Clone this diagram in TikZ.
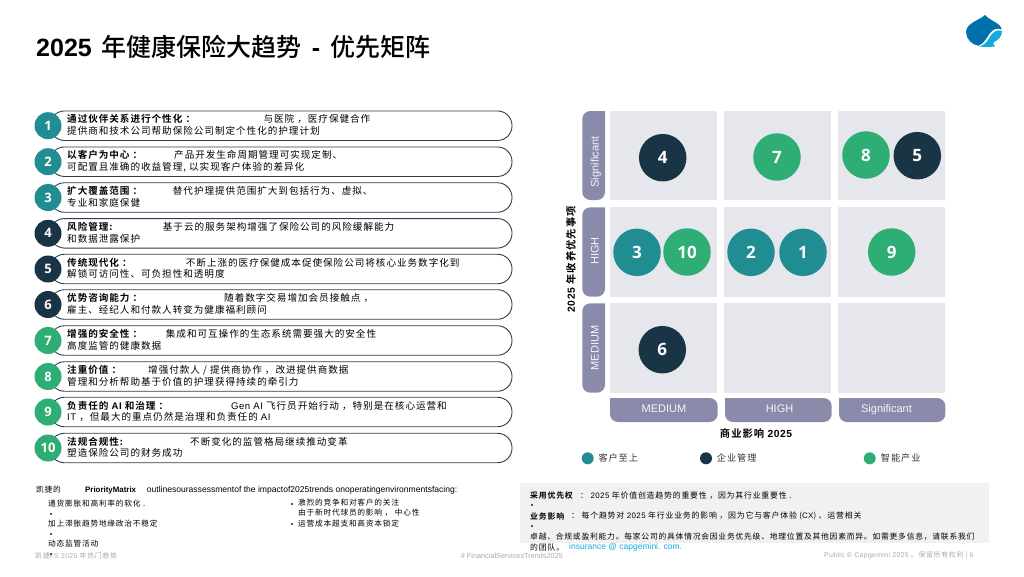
\documentclass[tikz,border=0pt]{standalone}
\usepackage{fontspec}
\setmainfont{Liberation Sans}
\newfontfamily\cjk[LetterSpace=10,BoldFont={Noto Sans CJK SC Bold}]{Noto Sans CJK SC}
\newfontfamily\cjkt{Noto Sans CJK SC Medium}
\newfontfamily\latt{Liberation Sans}
\newfontfamily\latn[LetterSpace=5]{Liberation Sans}
\newfontfamily\plainlat{Liberation Sans}
\newfontfamily\numf{Open Sans}
\newcommand{\lat}[1]{{\latn #1}}
\newcommand{\fsz}[1]{\fontsize{#1}{#1}\selectfont}
\definecolor{cteal}{HTML}{208D93}
\definecolor{cdark}{HTML}{193545}
\definecolor{cgreen}{HTML}{2EAD75}
\definecolor{ccell}{HTML}{E6E7EC}
\definecolor{caxis}{HTML}{8A8BAA}
\definecolor{cpill}{HTML}{2F3D4C}
\definecolor{cfoot}{HTML}{A8A8A8}
\definecolor{cbullet}{HTML}{0070AD}
\definecolor{clink}{HTML}{12ABDB}
\tikzset{
  pill/.style={draw=cpill,line width=0.9pt,rounded corners=14.5pt,fill=white,minimum width=462pt,minimum height=29.5pt,inner sep=0pt},
  listnum/.style={circle,minimum size=27pt,inner sep=0pt,text=white,font=\numf\bfseries\fsz{13}},
  matnum/.style={circle,minimum size=47.5pt,inner sep=0pt,text=white,font=\numf\bfseries\fsz{17}},
  legdot/.style={circle,minimum size=12pt,inner sep=0pt},
  cell/.style={fill=ccell,draw=none,minimum width=107pt,minimum height=89.5pt,inner sep=0pt},
  listtext/.style={anchor=west,inner sep=0pt,text=black,font=\cjk\fsz{9.6}},
  smalltext/.style={anchor=west,inner sep=0pt,text=black,font=\cjk\fsz{7.7}},
  boxtext/.style={anchor=west,inner sep=0pt,text=black,font=\cjk\fsz{7.9}},
  foot/.style={anchor=west,inner sep=0pt,text=cfoot,font=\cjk\fsz{6.9}},
  axislab/.style={inner sep=0pt,text=white!92!caxis,font=\plainlat\fsz{11},text height=8pt,text depth=2pt},
  axistitle/.style={inner sep=0pt,text=black,font=\cjk\bfseries\fsz{10.3}},
  bul/.style={fill=cbullet,inner sep=0pt,minimum size=2pt},
}
\newcommand{\trend}[7]{%
  \node[pill] (p#1) at (281,#2) {};
  \node[listnum,fill=#3] (n#1) at (48,#2) {#1};
  \node[listtext] (a#1) at (67,#2-6.5) {\bfseries #4};
  \node[listtext] (b#1) at (#5,#2-6.5) {#6};
  \node[listtext] (c#1) at (67,#2+5.3) {#7};
}
\begin{document}
\begin{tikzpicture}[x=1pt,y=-1pt]
\useasboundingbox (0,0) rectangle (1024,576);
% title
\node[anchor=west,inner sep=0pt,font=\cjkt\fsz{25}] (title) at (36,47) {{\latt\bfseries 2025}\hspace{10pt}年健康保险大趋势\hspace{10pt}{\latt\bfseries -}\hspace{10pt}优先矩阵};
% logo
\fill[cbullet] (985,15) .. controls (980,20) and (966,23) .. (966,32) .. controls (966,39) and (972,45) .. (978.5,45.7) .. controls (984,44) and (987,37) .. (990,33) .. controls (993,29) and (998,27.5) .. (1001.7,29.5) .. controls (1001,23) and (990,21) .. (985,15) -- cycle;
\fill[clink] (1002,31) .. controls (996,28) and (991,34) .. (988,40) .. controls (986,43) and (983,45.5) .. (979,46.5) .. controls (984,47) and (990,47) .. (995,46.5) .. controls (993,45) and (993,43) .. (994,42) .. controls (998,40) and (1002,37) .. (1002,31) -- cycle;
% trends
\trend{1}{125.7}{cteal}{通过伙伴关系进行个性化 ：}{263.3}{与医院 ，医疗保健合作}{提供商和技术公司帮助保险公司制定个性化的护理计划}
\trend{2}{161.7}{cteal}{以客户为中心 ：}{174}{产品开发生命周期管理可实现定制、}{可配置且准确的收益管理, 以实现客户体验的差异化}
\trend{3}{197.5}{cteal}{扩大覆盖范围 ：}{172.7}{替代护理提供范围扩大到包括行为、虚拟、}{专业和家庭保健}
\trend{4}{233.3}{cdark}{风险管理:}{162.7}{基于云的服务架构增强了保险公司的风险缓解能力}{和数据泄露保护}
\trend{5}{269}{cdark}{传统现代化 ：}{185.7}{不断上涨的医疗保健成本促使保险公司将核心业务数字化到}{解锁可访问性、可负担性和透明度}
\trend{6}{304.5}{cdark}{优势咨询能力 ：}{224}{随着数字交易增加会员接触点 ，}{雇主、经纪人和付款人转变为健康福利顾问}
\trend{7}{340.5}{cgreen}{增强的安全性 ：}{165.7}{集成和可互操作的生态系统需要强大的安全性}{高度监管的健康数据}
\trend{8}{376.5}{cgreen}{注重价值 ：}{148}{增强付款人 / 提供商协作 ，改进提供商数据}{管理和分析帮助基于价值的护理获得持续的牵引力}
\trend{9}{412}{cgreen}{负责任的 \lat{AI} 和治理 ：}{231}{\lat{Gen AI} 飞行员开始行动 ，特别是在核心运营和}{\lat{IT} ，但最大的重点仍然是治理和负责任的 \lat{AI}}
\trend{10}{448}{cgreen}{法规合规性:}{190}{不断变化的监管格局继续推动变革}{塑造保险公司的财务成功}
% matrix cells
\foreach \nm/\cx in {a/663.5,b/777.3,c/891.8}{
  \foreach \rn/\cy in {t/155.5,m/252,l/348}{
    \node[cell] (cell\nm\rn) at (\cx,\cy) {};
  }
}
% y tabs
\fill[caxis] (605,111) [rounded corners=8pt] -- (582.3,111) -- (582.3,200) -- (605,200) [sharp corners] -- cycle;
\fill[caxis] (605,207.3) [rounded corners=8pt] -- (582.3,207.3) -- (582.3,296.7) -- (605,296.7) [sharp corners] -- cycle;
\fill[caxis] (605,303.3) [rounded corners=8pt] -- (582.3,303.3) -- (582.3,392.7) -- (605,392.7) [sharp corners] -- cycle;
\node[axislab,rotate=90] (ys) at (595.7,162) {Significant};
\node[axislab,rotate=90] (yh) at (595.7,251) {HIGH};
\node[axislab,rotate=90] (ym) at (595.7,348) {MEDIUM};
% x tabs
\fill[caxis] (610,398) [rounded corners=8pt] -- (610,422) -- (717.7,422) -- (717.7,398) [sharp corners] -- cycle;
\fill[caxis] (725,398) [rounded corners=8pt] -- (725,422) -- (831.7,422) -- (831.7,398) [sharp corners] -- cycle;
\fill[caxis] (839,398) [rounded corners=8pt] -- (839,422) -- (945.3,422) -- (945.3,398) [sharp corners] -- cycle;
\node[axislab] (xm) at (664,409.5) {MEDIUM};
\node[axislab] (xh) at (779.5,409.5) {HIGH};
\node[axislab] (xs) at (886.5,409.5) {Significant};
% axis titles
\node[axistitle] (xt) at (756,433.7) {商业影响 \lat{\bfseries 2025}};
\node[axistitle,rotate=90] (yt) at (571,259.3) {\lat{\bfseries 2025} 年收养优先事项};
% matrix circles
\node[matnum,fill=cdark] (m4) at (662.7,157.7) {4};
\node[matnum,fill=cgreen] (m7) at (777,157) {7};
\node[matnum,fill=cgreen] (m8) at (866,155) {8};
\node[matnum,fill=cdark] (m5) at (917.3,155.7) {5};
\node[matnum,fill=cteal] (m3) at (637,252.3) {3};
\node[matnum,fill=cgreen] (m10) at (687,252) {10};
\node[matnum,fill=cteal] (m2) at (751,252.3) {2};
\node[matnum,fill=cteal] (m1) at (803,252.3) {1};
\node[matnum,fill=cgreen] (m9) at (891.7,252) {9};
\node[matnum,fill=cdark] (m6) at (662.3,349.7) {6};
% legend
\node[legdot,fill=cteal] (l1) at (587.7,458.3) {};
\node[legdot,fill=cdark] (l2) at (706,458.3) {};
\node[legdot,fill=cgreen] (l3) at (869.7,458.3) {};
\node[listtext,font=\cjk\fsz{9.2},text=black!80] (lt1) at (598.3,458.3) {客户至上};
\node[listtext,font=\cjk\fsz{9.2},text=black!80] (lt2) at (716.7,458.3) {企业管理};
\node[listtext,font=\cjk\fsz{9.2},text=black!80] (lt3) at (880.7,458.3) {智能产业};
% bottom left
\node[smalltext] (bl1) at (36,490) {凯捷的};
\node[anchor=west,inner sep=0pt,font=\plainlat\bfseries\fsz{7.9}] (bl2) at (85,490) {PriorityMatrix};
\node[anchor=west,inner sep=0pt,font=\plainlat\fsz{8.55}] (bl3) at (146.7,490) {outlinesourassessmentof the impactof2025trends onoperatingenvironmentsfacing:};
\node[smalltext] (bl4) at (48,504) {通货膨胀和高利率的软化 .};
\node[bul] (bu1) at (51,514) {};
\node[smalltext] (bl5) at (48,524) {加上滞胀趋势地缘政治不稳定};
\node[bul] (bu2) at (51,534) {};
\node[smalltext] (bl6) at (48,544) {动态监管活动};
\node[bul] (bu3) at (291.7,504) {};
\node[smalltext] (br1) at (298,503) {激烈的竞争和对客户的关注};
\node[smalltext] (br2) at (298,513) {由于新时代球员的影响 ， 中心性};
\node[bul] (bu4) at (291.7,524) {};
\node[smalltext] (br3) at (298,524) {运营成本超支和高资本锁定};
% grey box
\node[fill=black!5.5,draw=none,anchor=north west,minimum width=469pt,minimum height=59.3pt,inner sep=0pt] (gbox) at (520,483) {};
\node[boxtext] (g1) at (530,495.7) {\bfseries 采用优先权};
\node[boxtext] (g2) at (580,495.7) {： \lat{2025} 年价值创造趋势的重要性 ，因为其行业重要性 .};
\node[bul] (g3) at (532,505.3) {};
\node[boxtext] (g4) at (530,516) {\bfseries 业务影响};
\node[boxtext] (g5) at (571,516) {： 每个趋势对 \lat{2025} 年行业业务的影响 ，因为它与客户体验 (\lat{CX}) 、运营相关};
\node[bul] (g6) at (532,525.7) {};
\node[boxtext,font=\cjk\fsz{7.78}] (g7) at (530,536.7) {卓越、合规或盈利能力。每家公司的具体情况会因业务优先级、地理位置及其他因素而异。如需更多信息，请联系我们};
\node[boxtext] (g8) at (530,547.3) {的团队。};
\node[anchor=west,inner sep=0pt,text=clink,font=\plainlat\fsz{8.5}] (g9) at (569,547.3) {insurance @ capgemini. com.};
% footer
\node[foot] (f1) at (35,556) {凯捷\lat{FS 2025} 年热门趋势};
\node[bul] (bu5) at (51,554) {};
\node[foot,font=\plainlat\fsz{7.3}] (f2) at (460.7,556) {\# FinancialServicesTrends2025};
\node[foot] (f3) at (824,556) {\lat{Public © Capgemini 2025} 。保留所有权利 | \lat{6}};
\end{tikzpicture}
\end{document}
